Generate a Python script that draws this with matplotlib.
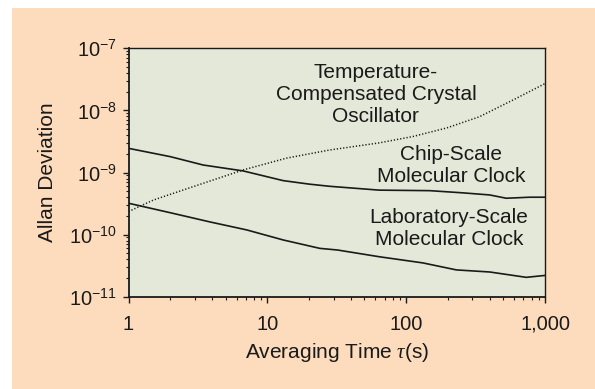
import matplotlib
matplotlib.use("Agg")
import matplotlib.pyplot as plt
import numpy as np
from matplotlib.patches import Rectangle
from matplotlib.ticker import FixedLocator, FixedFormatter, LogLocator, NullFormatter

plt.rcParams['font.family'] = ['Liberation Sans', 'DejaVu Sans']
plt.rcParams['mathtext.fontset'] = 'custom'
plt.rcParams['mathtext.rm'] = 'Liberation Sans'
plt.rcParams['mathtext.it'] = 'Liberation Serif:italic'

# values
chip_tau = [1, 2, 3.45, 6.7, 13, 20, 28, 64, 148, 257, 400, 526, 776, 1000]
chip_adev = [2.45e-9, 1.8e-9, 1.32e-9, 1.06e-9, 7.4e-10, 6.5e-10, 6.0e-10, 5.2e-10,
             5.1e-10, 4.7e-10, 4.35e-10, 3.85e-10, 4.0e-10, 4.0e-10]

lab_tau = [1, 2, 3.86, 7.1, 13, 23.9, 32, 64, 132, 230, 400, 733, 1000]
lab_adev = [3.2e-10, 2.25e-10, 1.6e-10, 1.19e-10, 8.2e-11, 6.0e-11, 5.65e-11,
            4.4e-11, 3.5e-11, 2.7e-11, 2.5e-11, 2.05e-11, 2.2e-11]

tcxo_tau = [1, 1.51, 3.45, 6.7, 13.7, 28, 64, 112, 195, 337, 588, 1000]
tcxo_adev = [2.35e-10, 3.6e-10, 6.7e-10, 1.1e-9, 1.7e-9, 2.3e-9, 3.0e-9,
             3.8e-9, 5.2e-9, 7.9e-9, 1.47e-8, 2.7e-8]

x_ticks = [1, 10, 100, 1000]
x_labels = ['1', '10', '100', '1,000']

peach = '#fddcbe'
face = '#e4e8d8'
ink = '#1a1a1a'

fig = plt.figure(figsize=(5.95, 3.89), dpi=100)
fig.patch.set_facecolor('white')
fig.patches.append(Rectangle((12 / 595, 0), 1, (389 - 8) / 389,
                             transform=fig.transFigure, facecolor=peach,
                             edgecolor='none', zorder=-10))

ax = fig.add_axes([128.5 / 595, (389 - 296.7) / 389, 416.5 / 595, 248.4 / 389])
ax.set_facecolor(face)

ax.plot(chip_tau, chip_adev, color=ink, lw=1.2)
ax.plot(lab_tau, lab_adev, color=ink, lw=1.2)
ax.plot(tcxo_tau, tcxo_adev, color=ink, lw=1.1, linestyle=(0, (0.8, 1.3)))

ax.set_xscale('log')
ax.set_yscale('log')
ax.set_xlim(1, 1000)
ax.set_ylim(1e-11, 1e-7)

ax.xaxis.set_major_locator(FixedLocator(x_ticks))
ax.xaxis.set_major_formatter(FixedFormatter(x_labels))
ax.xaxis.set_minor_locator(LogLocator(base=10, subs=np.arange(2, 10)))
ax.xaxis.set_minor_formatter(NullFormatter())
ax.yaxis.set_major_locator(LogLocator(base=10, numticks=10))
ax.yaxis.set_minor_locator(LogLocator(base=10, subs=np.arange(2, 10), numticks=10))
ax.yaxis.set_minor_formatter(NullFormatter())

ax.tick_params(which='major', direction='out', length=4, width=1, labelsize=14.5,
               colors=ink)
ax.tick_params(which='minor', direction='out', length=2.5, width=0.8, colors=ink)
ax.tick_params(axis='x', which='major', pad=9)
ax.tick_params(axis='y', which='major', pad=4)

for s in ax.spines.values():
    s.set_color(ink)
    s.set_linewidth(1.0)
ax.spines['left'].set_linewidth(1.3)
ax.spines['bottom'].set_linewidth(1.3)

ax.set_ylabel('Allan Deviation', fontsize=15, color=ink)
ax.yaxis.set_label_coords(-0.172, 0.5)
ax.set_xlabel(r'Averaging Time $\mathit{\tau}$(s)', fontsize=15, color=ink)
ax.xaxis.set_label_coords(0.5, -0.178)

ax.text(0.594, 0.812, 'Temperature-\nCompensated Crystal\nOscillator',
        transform=ax.transAxes, ha='center', va='center', fontsize=15,
        linespacing=1.2, color=ink)
ax.text(0.774, 0.530, 'Chip-Scale\nMolecular Clock',
        transform=ax.transAxes, ha='center', va='center', fontsize=15,
        linespacing=1.2, color=ink)
ax.text(0.769, 0.275, 'Laboratory-Scale\nMolecular Clock',
        transform=ax.transAxes, ha='center', va='center', fontsize=15,
        linespacing=1.2, color=ink)

fig.savefig('out.png', dpi=100)
